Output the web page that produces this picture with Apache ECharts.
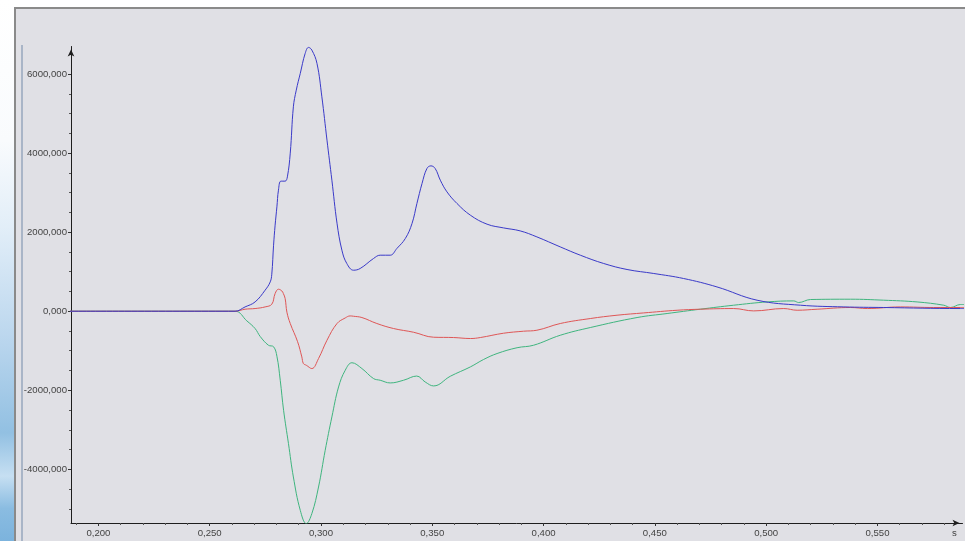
<!DOCTYPE html>
<html>
<head>
<meta charset="utf-8">
<script src="https://cdn.jsdelivr.net/npm/echarts@6/dist/echarts.min.js"></script>
<style>
  html, body { margin: 0; padding: 0; background: #ffffff; }
  #wrap { position: relative; width: 965px; height: 541px; overflow: hidden; }
  #bgLeft { position: absolute; left: 0; top: 0; width: 14px; height: 541px;
    background: linear-gradient(to bottom, #ffffff 0%, #f9fbfd 26%, #e2eef8 42%, #bcd7ee 62%, #92c0e2 80%, #c6dff2 88%, #8abce1 94%, #7cb3dd 100%); }
  #panel { position: absolute; left: 14px; top: 7px; width: 951px; height: 534px; box-sizing: border-box;
    background: #e0e0e5; border-top: 2px solid #8a8a8a; border-left: 2px solid #8a8a8a; }
  #inner { position: absolute; left: 21px; top: 45px; width: 2px; height: 496px; background: #a9b5c7; }
  #chart { position: absolute; left: 0; top: 0; width: 965px; height: 541px; }
</style>
</head>
<body>
<div id="wrap">
  <div id="bgLeft"></div>
  <div id="panel"></div>
  <div id="inner"></div>
  <div id="chart"></div>
</div>
<script>
// ---- data (time in s, values) ----
const xTickValues = [0.2, 0.25, 0.3, 0.35, 0.4, 0.45, 0.5, 0.55];
const yTickValues = [-4000, -2000, 0, 2000, 4000, 6000];
const xUnitLabel = 's';

const blueT = [0.185, 0.2614, 0.2659, 0.2704, 0.2749, 0.2772, 0.2779, 0.2787, 0.2794, 0.2802,
  0.2809, 0.2820, 0.2839, 0.2849, 0.2862, 0.2876, 0.2889, 0.2907, 0.2929, 0.2944,
  0.2959, 0.2982, 0.3004, 0.3027, 0.3049, 0.3072, 0.3094, 0.3116, 0.3146, 0.3176,
  0.3236, 0.3266, 0.3311, 0.3341, 0.3379, 0.3409, 0.3431, 0.3454, 0.3476, 0.3494,
  0.3513, 0.3536, 0.3566, 0.3611, 0.3671, 0.3746, 0.3820, 0.3895, 0.3970, 0.4075,
  0.4165, 0.4270, 0.4375, 0.4495, 0.4629, 0.4779, 0.4959, 0.5154, 0.5349, 0.5528,
  0.5873, 0.59];
const blueV = [0, 0, 109, 235, 532, 742, 937, 1671, 2178, 2641,
  3064, 3292, 3292, 3400, 4001, 5173, 5596, 6019, 6525, 6677,
  6609, 6272, 5426, 4330, 3317, 2228, 1545, 1208, 1038, 1081,
  1334, 1418, 1418, 1588, 1841, 2221, 2727, 3233, 3613, 3679,
  3613, 3317, 3021, 2727, 2431, 2203, 2109, 2033, 1881, 1628,
  1418, 1208, 1056, 955, 828, 615, 279, 152, 109, 94,
  68, 68];

const redT = [0.185, 0.2614, 0.2659, 0.2704, 0.2749, 0.2779, 0.2794, 0.2809, 0.2824, 0.2831,
  0.2839, 0.2847, 0.2862, 0.2895, 0.2914, 0.2921, 0.2934, 0.2959, 0.2989, 0.3027,
  0.3072, 0.3109, 0.3131, 0.3146, 0.3184, 0.3251, 0.3326, 0.3416, 0.3506, 0.3596,
  0.3671, 0.3716, 0.3820, 0.3910, 0.3970, 0.4075, 0.4210, 0.4330, 0.4450, 0.4600,
  0.4704, 0.4854, 0.4944, 0.5079, 0.5139, 0.5229, 0.5379, 0.5454, 0.5603, 0.5753,
  0.5873, 0.59];
const redV = [0, 0, 51, 68, 109, 177, 448, 557, 514, 448,
  322, -25, -311, -772, -1157, -1324, -1367, -1451, -1198, -734,
  -311, -170, -119, -127, -160, -311, -438, -532, -658, -666,
  -691, -666, -557, -506, -481, -311, -185, -101, -43, 25,
  51, 68, 8, 68, 25, 51, 94, 68, 109, 94,
  94, 94];

const greenT = [0.185, 0.2614, 0.2667, 0.2704, 0.2727, 0.2764, 0.2787, 0.2802, 0.2817, 0.2832,
  0.2854, 0.2876, 0.2907, 0.2934, 0.2959, 0.2989, 0.3019, 0.3049, 0.3079, 0.3109,
  0.3139, 0.3184, 0.3236, 0.3266, 0.3311, 0.3371, 0.3430, 0.3468, 0.3506, 0.3581,
  0.3671, 0.3730, 0.3791, 0.3881, 0.3955, 0.4075, 0.4210, 0.4420, 0.4555, 0.4704,
  0.4854, 0.5004, 0.5124, 0.5146, 0.5199, 0.5379, 0.5528, 0.5678, 0.5798, 0.5828,
  0.5873, 0.59];
const greenV = [0, 0, -245, -438, -640, -861, -899, -1139, -1747, -2507,
  -3351, -4195, -5039, -5376, -5122, -4449, -3519, -2676, -1917, -1494,
  -1304, -1451, -1704, -1747, -1815, -1747, -1641, -1790, -1891, -1646,
  -1410, -1223, -1071, -924, -861, -608, -413, -160, -58, 51,
  152, 235, 261, 220, 296, 304, 279, 235, 152, 94,
  170, 170];

// ---- build ----
const xMin = 0.1877, xMax = 0.5882;
const yMin = -5360, yMax = 6700;
const xMinor = [];
for (let i = 19; i <= 58; i++) { if (i % 5 !== 0) xMinor.push(i / 100); }
const yMinor = [];
for (let v = -5000; v <= 6500; v += 500) { if (v % 2000 !== 0) yMinor.push(v); }

function zip(t, v) { return t.map((x, i) => [x, v[i]]); }
const fmt = v => Number(v).toFixed(3).replace('.', ',');
const FONT = "'Liberation Sans', Arial, sans-serif";
const axisColor = '#1e1e1e';

const chart = echarts.init(document.getElementById('chart'), null, { renderer: 'canvas' });
chart.setOption({
  animation: false,
  backgroundColor: 'transparent',
  grid: { left: 71, right: 2.5, top: 46.5, bottom: 18, containLabel: false },
  xAxis: [
    {
      type: 'value', min: xMin, max: xMax, position: 'bottom',
      axisLine: { show: true, onZero: false, symbol: ['none', 'arrow'], symbolSize: [5, 7], symbolOffset: [0, -3],
        lineStyle: { color: axisColor, width: 1 } },
      axisTick: { show: true, customValues: xTickValues, length: 3, lineStyle: { color: '#333' } },
      axisLabel: { show: true, customValues: xTickValues, formatter: fmt, fontSize: 9.6, fontFamily: FONT, color: '#444', margin: 5 },
      splitLine: { show: false }
    },
    {
      type: 'value', min: xMin, max: xMax, position: 'bottom',
      axisLine: { show: false, onZero: false },
      axisTick: { show: true, customValues: xMinor, length: 2, lineStyle: { color: '#555' } },
      axisLabel: { show: false },
      splitLine: { show: false }
    }
  ],
  yAxis: [
    {
      type: 'value', min: yMin, max: yMax, position: 'left',
      axisLine: { show: true, onZero: false, symbol: ['none', 'arrow'], symbolSize: [5, 7], symbolOffset: [0, -3],
        lineStyle: { color: axisColor, width: 1 } },
      axisTick: { show: true, customValues: yTickValues, length: 3, lineStyle: { color: '#333' } },
      axisLabel: { show: true, customValues: yTickValues, formatter: fmt, fontSize: 9.6, fontFamily: FONT, color: '#444', margin: 4 },
      splitLine: { show: false }
    },
    {
      type: 'value', min: yMin, max: yMax, position: 'left',
      axisLine: { show: false, onZero: false },
      axisTick: { show: true, customValues: yMinor, length: 2, lineStyle: { color: '#555' } },
      axisLabel: { show: false },
      splitLine: { show: false }
    }
  ],
  graphic: [
    { type: 'text', left: 952, top: 528, style: { text: xUnitLabel, fontSize: 9.6, fontFamily: FONT, fill: '#444' } }
  ],
  series: [
    { type: 'line', name: 'green', data: zip(greenT, greenV), showSymbol: false, smooth: 0.4,
      lineStyle: { color: '#3fb47e', width: 1 }, clip: true, z: 2 },
    { type: 'line', name: 'red', data: zip(redT, redV), showSymbol: false, smooth: 0.4,
      lineStyle: { color: '#de5656', width: 1 }, clip: true, z: 3 },
    { type: 'line', name: 'blue', data: zip(blueT, blueV), showSymbol: false, smooth: 0.4,
      lineStyle: { color: '#3a3ac8', width: 1 }, clip: true, z: 4 }
  ]
});
</script>
</body>
</html>
